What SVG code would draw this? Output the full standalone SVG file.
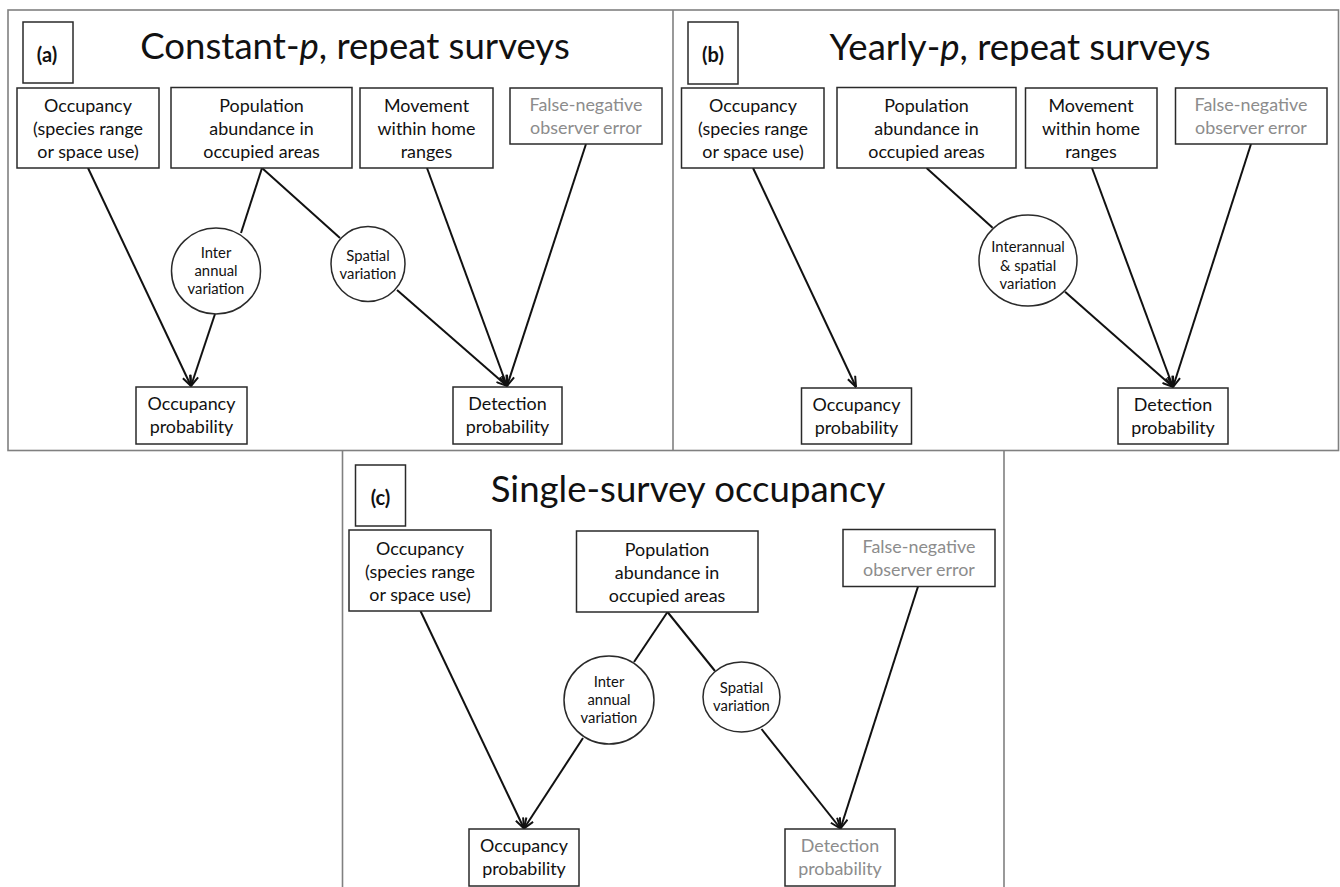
<svg xmlns="http://www.w3.org/2000/svg" width="1340" height="887" viewBox="0 0 1340 887">
<style>
.frame{fill:none;stroke:#808080;stroke-width:1.6}
.box{fill:#fff;stroke:#2a2a2a;stroke-width:1.5}
.circ{fill:#fff;stroke:#2a2a2a;stroke-width:1.5}
.t{font-family:Lato,"Open Sans","Liberation Sans",sans-serif;font-size:17.9px;fill:#111;text-anchor:middle}
.g{fill:#8c8c8c}
.c{font-family:Lato,"Open Sans","Liberation Sans",sans-serif;font-size:14.8px;fill:#111;text-anchor:middle}
.title{font-family:Lato,"Open Sans","Liberation Sans",sans-serif;font-size:36.6px;fill:#111;text-anchor:middle}
.lab{font-family:Lato,"Open Sans","Liberation Sans",sans-serif;font-size:20px;font-weight:bold;fill:#111;text-anchor:middle}
.ln{stroke:#111;stroke-width:2;fill:none}
.ar{marker-end:url(#arr)}
</style>
<defs>
<marker id="arr" markerUnits="userSpaceOnUse" viewBox="0 0 12 10" refX="11.5" refY="5" markerWidth="12" markerHeight="10" orient="auto">
<path d="M1,1 L11.5,5 L1,9" fill="none" stroke="#111" stroke-width="2"/>
</marker>
</defs>
<g id="frames">
<rect class="frame" x="8" y="10" width="1330.5" height="440.5"/>
<line class="frame" x1="673" y1="10" x2="673" y2="450.5"/>
<line class="frame" x1="342.5" y1="450.5" x2="342.5" y2="887"/>
<line class="frame" x1="1004" y1="450.5" x2="1004" y2="887"/>
</g>
<g id="connectors">
<line class="ln ar" x1="88" y1="168" x2="191" y2="386"/>
<line class="ln" x1="262" y1="168" x2="241" y2="233"/>
<line class="ln ar" x1="215" y1="314" x2="191" y2="386"/>
<line class="ln" x1="262" y1="168" x2="340" y2="238"/>
<line class="ln ar" x1="397" y1="290" x2="507" y2="386"/>
<line class="ln ar" x1="427" y1="168" x2="507" y2="386"/>
<line class="ln ar" x1="586" y1="144" x2="507" y2="386"/>
<line class="ln ar" x1="753" y1="168" x2="856" y2="387"/>
<line class="ln" x1="926.5" y1="168" x2="992.6" y2="227.7"/>
<line class="ln ar" x1="1065" y1="291.7" x2="1173" y2="387"/>
<line class="ln ar" x1="1092" y1="168" x2="1173" y2="387"/>
<line class="ln ar" x1="1251" y1="144" x2="1173" y2="387"/>
<line class="ln ar" x1="420.5" y1="611" x2="524" y2="828.5"/>
<line class="ln" x1="667.5" y1="612" x2="634" y2="662"/>
<line class="ln" x1="667.5" y1="612" x2="715" y2="671"/>
<line class="ln ar" x1="583" y1="738" x2="524" y2="828.5"/>
<line class="ln ar" x1="761.5" y1="729" x2="840.5" y2="828.5"/>
<line class="ln ar" x1="918" y1="586.5" x2="840.5" y2="828.5"/>
</g>
<g id="panel-a">
<g id="a-label"><rect class="box" x="23" y="22" width="50" height="61"/><text class="lab" x="47" y="62">(a)</text></g>
<text class="title" x="355" y="59">Constant-<tspan font-style="italic">p</tspan>, repeat surveys</text>
<g id="a-occ"><rect class="box" x="17" y="88" width="142" height="80"/>
<text class="t" x="88" y="112">Occupancy</text><text class="t" x="88" y="135">(species range</text><text class="t" x="88" y="158">or space use)</text></g>
<g id="a-pop"><rect class="box" x="171" y="87.5" width="181" height="80.5"/>
<text class="t" x="261.5" y="112">Population</text><text class="t" x="261.5" y="135">abundance in</text><text class="t" x="261.5" y="158">occupied areas</text></g>
<g id="a-mov"><rect class="box" x="360" y="88" width="133" height="80"/>
<text class="t" x="426.5" y="112">Movement</text><text class="t" x="426.5" y="135">within home</text><text class="t" x="426.5" y="158">ranges</text></g>
<g id="a-fn"><rect class="box" x="510" y="88" width="152" height="56"/>
<text class="t g" x="586" y="111">False-negative</text><text class="t g" x="586" y="134">observer error</text></g>
<g id="a-inter"><ellipse class="circ" cx="216" cy="271" rx="44.5" ry="43"/>
<text class="c" x="216" y="257.5">Inter</text><text class="c" x="216" y="275.5">annual</text><text class="c" x="216" y="294">variation</text></g>
<g id="a-spat"><ellipse class="circ" cx="368" cy="264" rx="37" ry="37.5"/>
<text class="c" x="368" y="260.5">Spatial</text><text class="c" x="368" y="278.5">variation</text></g>
<g id="a-occp"><rect class="box" x="136" y="387" width="111" height="57"/>
<text class="t" x="191.5" y="410">Occupancy</text><text class="t" x="191.5" y="433">probability</text></g>
<g id="a-detp"><rect class="box" x="453" y="387" width="109" height="57"/>
<text class="t" x="507.5" y="410">Detection</text><text class="t" x="507.5" y="433">probability</text></g>
</g>
<g id="panel-b">
<g id="b-label"><rect class="box" x="688" y="22" width="50" height="62"/><text class="lab" x="713" y="62">(b)</text></g>
<text class="title" x="1020" y="60">Yearly-<tspan font-style="italic">p</tspan>, repeat surveys</text>
<g id="b-occ"><rect class="box" x="681.5" y="88" width="142.5" height="80"/>
<text class="t" x="753" y="112">Occupancy</text><text class="t" x="753" y="135">(species range</text><text class="t" x="753" y="158">or space use)</text></g>
<g id="b-pop"><rect class="box" x="837" y="87.5" width="179" height="80.5"/>
<text class="t" x="926.5" y="112">Population</text><text class="t" x="926.5" y="135">abundance in</text><text class="t" x="926.5" y="158">occupied areas</text></g>
<g id="b-mov"><rect class="box" x="1025.5" y="88" width="131.5" height="80"/>
<text class="t" x="1091" y="112">Movement</text><text class="t" x="1091" y="135">within home</text><text class="t" x="1091" y="158">ranges</text></g>
<g id="b-fn"><rect class="box" x="1175.5" y="88" width="151.5" height="56"/>
<text class="t g" x="1251" y="111">False-negative</text><text class="t g" x="1251" y="134">observer error</text></g>
<g id="b-var"><ellipse class="circ" cx="1028" cy="260.5" rx="49" ry="45.5"/>
<text class="c" x="1028" y="252">Interannual</text><text class="c" x="1028" y="270.5">&amp; spatial</text><text class="c" x="1028" y="289">variation</text></g>
<g id="b-occp"><rect class="box" x="801.5" y="388" width="110" height="56"/>
<text class="t" x="856.5" y="410.5">Occupancy</text><text class="t" x="856.5" y="433.5">probability</text></g>
<g id="b-detp"><rect class="box" x="1118" y="388" width="110" height="56"/>
<text class="t" x="1173" y="410.5">Detection</text><text class="t" x="1173" y="433.5">probability</text></g>
</g>
<g id="panel-c">
<g id="c-label"><rect class="box" x="355.5" y="465" width="50" height="61"/><text class="lab" x="380.5" y="505">(c)</text></g>
<text class="title" x="688" y="502">Single-survey occupancy</text>
<g id="c-occ"><rect class="box" x="349" y="530" width="142" height="81"/>
<text class="t" x="420" y="554.5">Occupancy</text><text class="t" x="420" y="577.5">(species range</text><text class="t" x="420" y="600.5">or space use)</text></g>
<g id="c-pop"><rect class="box" x="576.5" y="531" width="181.5" height="81"/>
<text class="t" x="667" y="555.5">Population</text><text class="t" x="667" y="578.5">abundance in</text><text class="t" x="667" y="601.5">occupied areas</text></g>
<g id="c-fn"><rect class="box" x="843" y="529.5" width="152" height="57"/>
<text class="t g" x="919" y="553">False-negative</text><text class="t g" x="919" y="576">observer error</text></g>
<g id="c-inter"><ellipse class="circ" cx="609" cy="700" rx="45" ry="44"/>
<text class="c" x="609" y="686.5">Inter</text><text class="c" x="609" y="704.5">annual</text><text class="c" x="609" y="723">variation</text></g>
<g id="c-spat"><ellipse class="circ" cx="741.5" cy="697" rx="38.5" ry="35"/>
<text class="c g" x="741.5" y="693">Spatial</text><text class="c g" x="741.5" y="711">variation</text></g>
<g id="c-occp"><rect class="box" x="469" y="829" width="110" height="57"/>
<text class="t" x="524" y="852">Occupancy</text><text class="t" x="524" y="875">probability</text></g>
<g id="c-detp"><rect class="box" x="785" y="829" width="110" height="57"/>
<text class="t g" x="840" y="852">Detection</text><text class="t g" x="840" y="875">probability</text></g>
</g>
</svg>
